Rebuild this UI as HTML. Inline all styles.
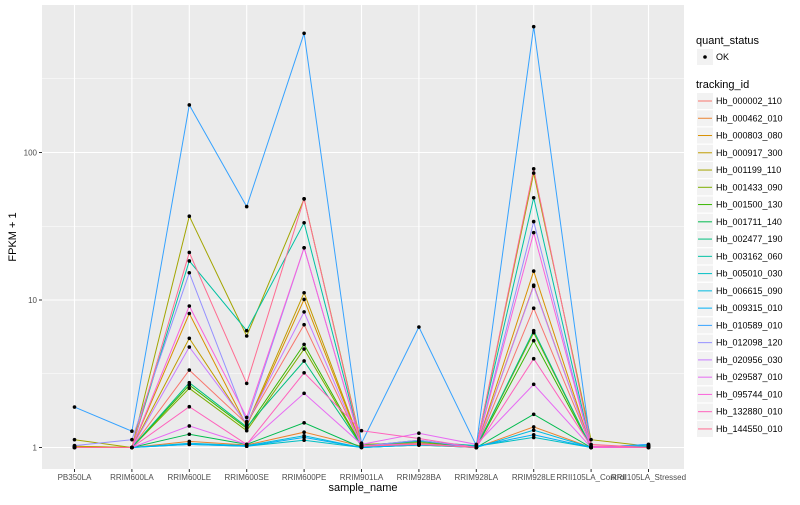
<!DOCTYPE html>
<html><head><meta charset="utf-8"><style>
body{margin:0;background:#fff;font-family:"Liberation Sans",sans-serif;}
svg text{font-family:"Liberation Sans",sans-serif;}
</style></head><body>
<svg id="chart" width="800" height="500" viewBox="0 0 800 500" xmlns="http://www.w3.org/2000/svg">
<rect x="42" y="5" width="642" height="464" fill="#ebebeb"/>
<g id="grid"></g><g id="lines"></g><g id="pts"></g><g id="axes"></g><g id="legend"></g>
<text x="363" y="491" font-size="11" text-anchor="middle" fill="#000">sample_name</text>
<text transform="translate(16,237) rotate(-90)" font-size="11" text-anchor="middle" fill="#000">FPKM + 1</text>
</svg>
<script>
const samples=["PB350LA","RRIM600LA","RRIM600LE","RRIM600SE","RRIM600PE","RRIM901LA","RRIM928BA","RRIM928LA","RRIM928LE","RRII105LA_Control","RRII105LA_Stressed"];
const ids=["Hb_000002_110","Hb_000462_010","Hb_000803_080","Hb_000917_300","Hb_001199_110","Hb_001433_090","Hb_001500_130","Hb_001711_140","Hb_002477_190","Hb_003162_060","Hb_005010_030","Hb_006615_090","Hb_009315_010","Hb_010589_010","Hb_012098_120","Hb_020956_030","Hb_029587_010","Hb_095744_010","Hb_132880_010","Hb_144550_010"];
const colors=["#F8766D","#EA8331","#D89000","#C09B00","#A3A500","#7CAE00","#39B600","#00BB4E","#00BF7D","#00C1A3","#00BFC4","#00BAE0","#00B0F6","#35A2FF","#9590FF","#C77CFF","#E76BF3","#FA62DB","#FF62BC","#FF6C91"];
const s01=[1.02,1.0,3.35,1.45,6.8,1.03,1.05,1.0,8.8,1.02,1.02];
const s02=[1.0,1.0,1.1,1.04,1.27,1.02,1.08,1.0,1.38,1.0,1.02];
const s03=[1.0,1.0,8.1,1.4,10.1,1.02,1.06,1.0,15.7,1.0,1.0];
const s04=[1.02,1.0,5.5,1.42,11.2,1.03,1.05,1.0,12.6,1.0,1.02];
const s05=[1.13,1.0,37,5.7,48.5,1.05,1.08,1.0,72.5,1.13,1.02];
const s06=[1.0,1.0,2.52,1.3,4.65,1.02,1.06,1.0,6.0,1.0,1.0];
const s07=[1.0,1.0,2.65,1.35,5.0,1.03,1.1,1.0,5.3,1.0,1.02];
const s08=[1.0,1.0,1.23,1.05,1.47,1.0,1.04,1.0,1.68,1.0,1.0];
const s09=[1.0,1.0,2.75,1.38,3.86,1.02,1.12,1.0,6.2,1.0,1.0];
const s10=[1.0,1.0,18.4,6.2,33.4,1.03,1.1,1.03,49.3,1.0,1.02];
const s11=[1.0,1.0,1.05,1.02,1.12,1.0,1.05,1.02,1.17,1.0,1.03];
const s12=[1.0,1.0,1.07,1.03,1.2,1.0,1.04,1.0,1.31,1.0,1.02];
const s13=[1.0,1.0,1.05,1.02,1.17,1.0,1.04,1.02,1.22,1.0,1.05];
const s14=[1.88,1.29,210,43,643,1.07,6.56,1.03,713,1.0,1.05];
const s15=[1.03,1.13,15.3,1.5,22.6,1.02,1.12,1.0,34,1.0,1.0];
const s16=[1.0,1.0,4.8,1.45,8.3,1.02,1.06,1.0,12.4,1.0,1.0];
const s17=[1.0,1.0,1.4,1.05,2.33,1.05,1.25,1.05,2.68,1.0,1.0];
const s18=[1.0,1.0,9.1,1.6,22.6,1.03,1.06,1.0,28.6,1.0,1.0];
const s19=[1.0,1.0,1.89,1.05,3.21,1.3,1.15,1.0,4.0,1.02,1.0];
const s20=[1.0,1.0,21,2.72,48.5,1.02,1.05,1.0,77.5,1.05,1.0];
const series=[s01,s02,s03,s04,s05,s06,s07,s08,s09,s10,s11,s12,s13,s14,s15,s16,s17,s18,s19,s20];
const yTicks=[1,10,100];
const yTickLabels=["1","10","100"];

const NS="http://www.w3.org/2000/svg";
function mk(t,a,p){const e=document.createElementNS(NS,t);for(const k in a)e.setAttribute(k,a[k]);p.appendChild(e);return e;}
const xS=i=>74.5+i*57.4;
const yS=v=>447.5-147.5*Math.log10(v);
const grid=document.getElementById('grid'),axes=document.getElementById('axes');
for(let d=-0.5;d<=2.6;d+=0.5){const y=yS(Math.pow(10,d));if(y<5||y>469)continue;
 const major=Math.abs(d-Math.round(d))<1e-6;
 const g=mk('line',{x1:42,x2:684,y1:y,y2:y,stroke:'#fff','stroke-width':major?1.1:0.55},grid);
 
 }
samples.forEach((s,i)=>{const x=xS(i);
 const g=mk('line',{x1:x,x2:x,y1:5,y2:469,stroke:'#fff','stroke-width':1.1},grid);
 
 
 const tk=mk('line',{x1:x,x2:x,y1:469,y2:472,stroke:'#333'},axes);
 
 
 const t=mk('text',{x:x,y:480,'font-size':8,'text-anchor':'middle',fill:'#4d4d4d'},axes);t.textContent=s;
 
 });
yTicks.forEach((v,i)=>{const y=yS(v);
 const tk=mk('line',{x1:39,x2:42,y1:y,y2:y,stroke:'#333'},axes);
 
 
 const t=mk('text',{x:37,y:y+3,'font-size':8,'text-anchor':'end',fill:'#4d4d4d'},axes);t.textContent=yTickLabels[i];
 
 });
const lines=document.getElementById('lines'),pts=document.getElementById('pts');
series.forEach((vals,k)=>{
 const d=vals.map((v,i)=>(i?'L':'M')+xS(i).toFixed(1)+','+yS(v).toFixed(1)).join('');
 const p=mk('path',{d:d,fill:'none',stroke:colors[k],'stroke-width':1},lines);
 
 
 vals.forEach((v,i)=>{const c=mk('circle',{cx:xS(i),cy:yS(v),r:1.8,fill:'#000'},pts);
  
  });});
const lg=document.getElementById('legend');
let t=mk('text',{x:696,y:44,'font-size':11,fill:'#000'},lg);t.textContent='quant_status';


mk('rect',{x:697,y:49,width:16,height:16,fill:'#f2f2f2'},lg);
mk('circle',{cx:705,cy:57,r:1.8,fill:'#000'},lg);
t=mk('text',{x:716,y:60,'font-size':9,fill:'#000'},lg);t.textContent='OK';


t=mk('text',{x:696,y:88,'font-size':11,fill:'#000'},lg);t.textContent='tracking_id';


ids.forEach((id,k)=>{const y=101+k*17.26;
 const g=mk('g',{},lg);
 
 
 mk('rect',{x:697,y:y-8,width:16,height:16,fill:'#f2f2f2'},g);
 mk('line',{x1:698,x2:712,y1:y,y2:y,stroke:colors[k],'stroke-width':1},g);
 const tx=mk('text',{x:716,y:y+3,'font-size':9,fill:'#000'},g);tx.textContent=id;});
</script>
</body></html>
